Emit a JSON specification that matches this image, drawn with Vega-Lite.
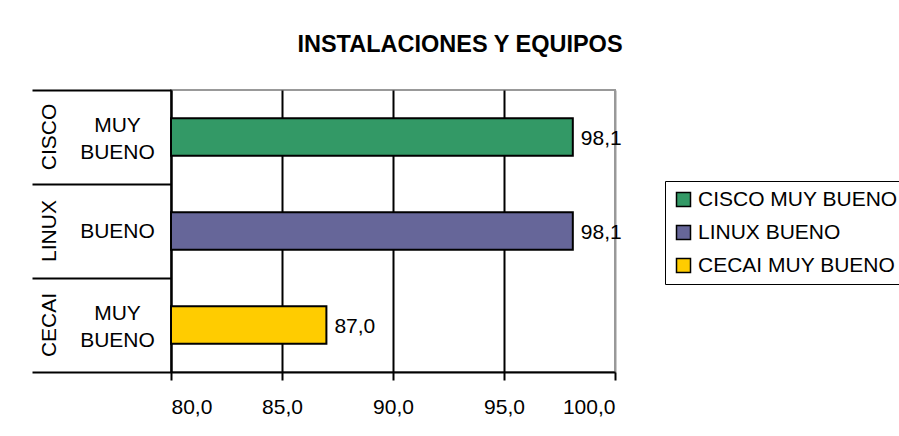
{
  "$schema": "https://vega.github.io/schema/vega-lite/v6.json",
  "width": 444,
  "height": 282,
  "autosize": {"type": "none"},
  "padding": {"left": 171, "top": 90, "right": 284, "bottom": 64},
  "background": "white",
  "title": {
    "text": "INSTALACIONES Y EQUIPOS",
    "fontSize": 23.5,
    "fontWeight": "bold",
    "color": "black",
    "anchor": "middle",
    "frame": "group",
    "baseline": "alphabetic",
    "dx": 67,
    "offset": 14
  },
  "data": {
    "values": [
      {"label": "CISCO MUY BUENO", "value": 98.1},
      {"label": "LINUX BUENO", "value": 98.1},
      {"label": "CECAI MUY BUENO", "value": 87.0}
    ]
  },
  "layer": [
    {
      "mark": {"type": "bar", "height": {"band": 0.4}, "stroke": "black", "strokeWidth": 2},
      "encoding": {
        "y": {
          "field": "label", "type": "nominal", "sort": null,
          "scale": {"paddingInner": 0, "paddingOuter": 0},
          "axis": {
            "orient": "left", "title": null, "labels": false,
            "domain": true, "domainColor": "black", "domainWidth": 2,
            "ticks": true, "tickBand": "extent", "tickSize": 139, "tickColor": "black", "tickWidth": 2,
            "grid": false
          }
        },
        "x": {
          "field": "value", "type": "quantitative",
          "scale": {"domain": [80, 100], "zero": false, "nice": false},
          "axis": {"title": null, "values": [80, 85, 90, 95, 100], "format": ".1f"}
        },
        "x2": {"datum": 80},
        "color": {
          "field": "label", "type": "nominal", "sort": null,
          "scale": {"domain": ["CISCO MUY BUENO", "LINUX BUENO", "CECAI MUY BUENO"], "range": ["#339966", "#666699", "#FFCC00"]},
          "legend": {
            "title": null, "orient": "none", "legendX": 494, "legendY": 91,
            "symbolType": "square", "symbolSize": 196, "symbolStrokeColor": "black", "symbolStrokeWidth": 1.5,
            "symbolOpacity": 1,
            "labelFontSize": 21, "labelColor": "black", "labelOffset": 4, "labelLimit": 400,
            "rowPadding": 11, "padding": 8, "strokeColor": "black", "fillColor": "white"
          }
        }
      }
    },
    {
      "mark": {"type": "text", "align": "left", "baseline": "middle", "dx": 8, "dy": 2, "fontSize": 21, "color": "black"},
      "encoding": {
        "y": {
          "field": "label", "type": "nominal", "sort": null,
          "axis": {
            "orient": "left", "title": null, "domain": false, "ticks": false, "grid": false,
            "labelAlign": "center", "labelBaseline": "middle", "labelPadding": 54,
            "labelFontSize": 21, "labelLineHeight": 27, "labelColor": "black",
            "labelOffset": {"condition": {"test": "length(split(datum.value, ' ')) > 2", "value": -11}, "value": 1},
            "labelExpr": "split(substring(datum.value, indexof(datum.value, ' ') + 1), ' ')"
          }
        },
        "x": {
          "field": "value", "type": "quantitative",
          "axis": {"title": null, "values": [80, 85, 90, 95, 100], "format": ".1f"}
        },
        "text": {"field": "value", "type": "quantitative", "format": ".1f"}
      }
    },
    {
      "mark": {"type": "bar", "opacity": 0, "height": {"band": 0.4}},
      "encoding": {
        "y": {
          "field": "label", "type": "nominal", "sort": null,
          "axis": {
            "orient": "left", "title": null, "domain": false, "ticks": false, "grid": false,
            "labelAngle": -90, "labelAlign": "center", "labelBaseline": "middle", "labelPadding": 122,
            "labelFontSize": 21, "labelColor": "black",
            "labelExpr": "substring(datum.value, 0, indexof(datum.value, ' '))"
          }
        },
        "x": {
          "field": "value", "type": "quantitative",
          "axis": {"title": null, "values": [80, 85, 90, 95, 100], "format": ".1f"}
        },
        "x2": {"datum": 80}
      }
    }
  ],
  "resolve": {"axis": {"y": "independent"}},
  "config": {
    "font": "Liberation Sans",
    "locale": {"number": {"decimal": ",", "thousands": ".", "grouping": [3], "currency": ["", " €"]}},
    "view": {"stroke": "#999999", "strokeWidth": 2},
    "axisX": {
      "domainColor": "black", "domainWidth": 2,
      "tickColor": "black", "tickWidth": 2, "tickSize": 8,
      "labelFontSize": 21, "labelColor": "black", "labelPadding": 16,
      "grid": true, "gridWidth": 2,
      "gridColor": {"condition": {"test": "datum.value == 100", "value": "#999999"}, "value": "black"}
    }
  }
}
